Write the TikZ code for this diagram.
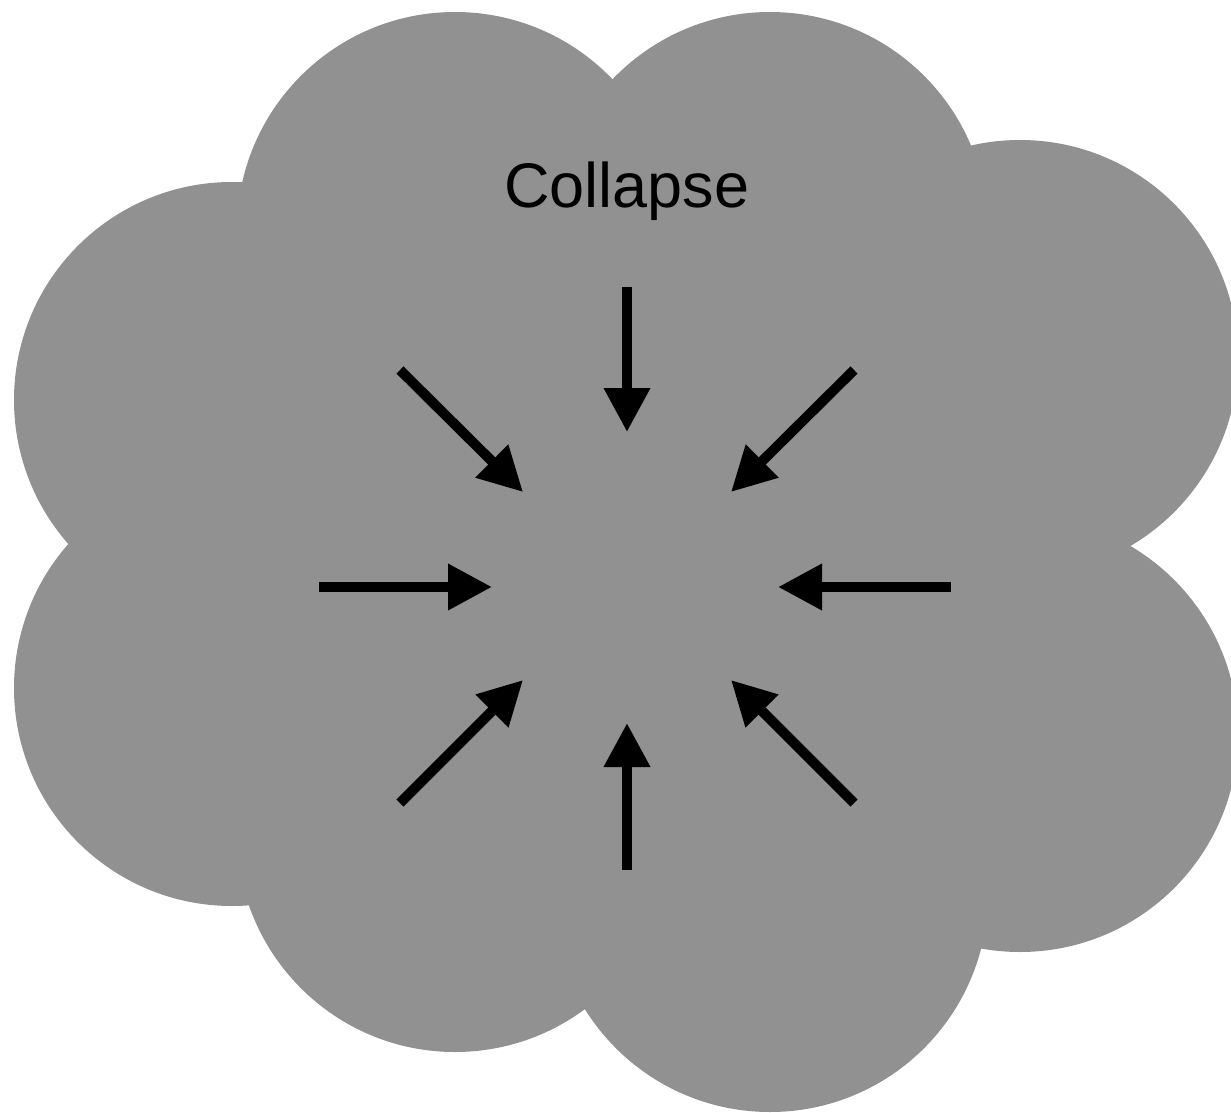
\documentclass[tikz,border=0pt]{standalone}
\usepackage{fontspec}
\setmainfont{Liberation Sans}
\usetikzlibrary{arrows.meta}
\definecolor{cloudgray}{RGB}{145,145,145}
\tikzset{
  puff/.style={fill=cloudgray, draw=none},
  inarrow/.style={line width=10pt, -{Triangle[length=44pt,width=44pt]}, black}
}
\begin{document}
\begin{tikzpicture}[x=1pt,y=-1pt]
\useasboundingbox (0,0) rectangle (1231,1113);
\clip (0,0) rectangle (1231,1113);
% cloud
\fill[cloudgray] (455,230) -- (770,230) -- (1020,358) -- (1020,734) -- (770,894) -- (455,834) -- (232,688) -- (232,400) -- cycle;
\foreach \cx/\cy in {455/230,770/230,1020/358,1020/734,770/894,455/834,232/688,232/400}
  \fill[puff] (\cx,\cy) circle[radius=218];
% label
\node[anchor=base, inner sep=0pt] (title) at (627,207) {\fontsize{63}{75}\selectfont Collapse};
% arrow ends
\coordinate (nS) at (627,287);  \coordinate (nE) at (627,432);
\coordinate (sS) at (627,870);  \coordinate (sE) at (627,723);
\coordinate (wS) at (319,587);  \coordinate (wE) at (492,587);
\coordinate (eS) at (951,587);  \coordinate (eE) at (778,587);
\coordinate (nwS) at (400,370); \coordinate (nwE) at (523,492);
\coordinate (neS) at (854,370); \coordinate (neE) at (731,492);
\coordinate (swS) at (400,803); \coordinate (swE) at (523,680);
\coordinate (seS) at (854,803); \coordinate (seE) at (731,680);
\foreach \d in {n,s,w,e,nw,ne,sw,se}
  \draw[inarrow] (\d S) -- (\d E);
\end{tikzpicture}
\end{document}
